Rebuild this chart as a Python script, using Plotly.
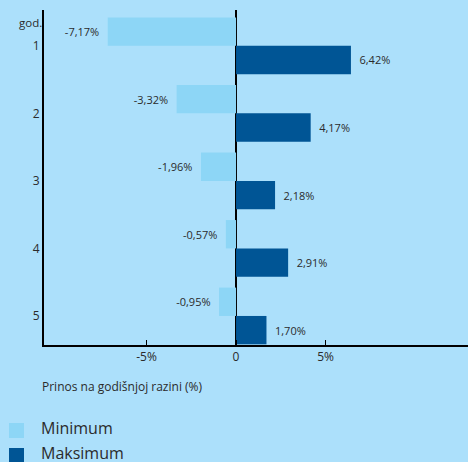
import plotly.graph_objects as go

years = [1, 2, 3, 4, 5]
year_labels = ["1", "2", "3", "4", "5"]
minimum = [-7.17, -3.32, -1.96, -0.57, -0.95]
maksimum = [6.42, 4.17, 2.18, 2.91, 1.70]
x_tickvals = [-5, 0, 5]
x_ticktext = ["-5%", "0", "5%"]
series_names = ["Minimum", "Maksimum"]

def fmt(v):
    return f"{v:.2f}".replace(".", ",") + "%"

SP = "\u2002"
BG = "#ACE0FB"
C_MIN = "#8DD6F6"
C_MAX = "#005595"
TXT = "#2b2b2b"
FONT = "Open Sans"

W, H = 468, 462
ML, MR, MT, MB = 44, 0, 10, 117
PW, PH = W - ML - MR, H - MT - MB

def px(xp):
    return (xp - ML) / PW

def py(yp):
    return (H - MB - yp) / PH

fig = go.Figure()
fig.add_trace(go.Bar(
    y=years, x=minimum, orientation="h", name=series_names[0],
    marker=dict(color=C_MIN, line=dict(width=0)),
    text=[fmt(v) + SP for v in minimum], textposition="outside",
    textfont=dict(size=11, color=TXT, family=FONT), cliponaxis=False,
))
fig.add_trace(go.Bar(
    y=years, x=maksimum, orientation="h", name=series_names[1],
    marker=dict(color=C_MAX, line=dict(width=0)),
    text=[SP + fmt(v) for v in maksimum], textposition="outside",
    textfont=dict(size=11, color=TXT, family=FONT), cliponaxis=False,
))

fig.update_layout(
    width=W, height=H,
    margin=dict(l=ML, r=MR, t=MT, b=MB, autoexpand=False),
    paper_bgcolor=BG, plot_bgcolor=BG,
    barmode="group", bargap=0.16, bargroupgap=0,
    font=dict(family=FONT, color=TXT),
    showlegend=False,
    uniformtext=dict(minsize=11, mode="show"),
    xaxis=dict(
        range=[-10.73, 12.96], tickvals=x_tickvals, ticktext=x_ticktext,
        ticks="inside", ticklen=5, tickcolor="black", tickwidth=1,
        showgrid=False, showline=True, linecolor="black", linewidth=2,
        zeroline=True, zerolinecolor="black", zerolinewidth=2,
        tickfont=dict(size=12, color=TXT), fixedrange=True,
    ),
    yaxis=dict(
        range=[5.43, 0.47], tickvals=years, ticktext=year_labels,
        ticks="", showgrid=False, showline=True, linecolor="black",
        linewidth=2, zeroline=False, tickfont=dict(size=12, color=TXT),
        fixedrange=True,
    ),
)

fig.add_annotation(
    text="god.", xref="paper", yref="y", x=0, y=0.65,
    xanchor="right", yanchor="middle", showarrow=False, xshift=0,
    font=dict(size=11.5, color=TXT, family=FONT),
)
fig.add_annotation(
    text="Prinos na godišnjoj razini (%)", xref="paper", yref="paper",
    x=px(40), y=py(386), xanchor="left", yanchor="middle", showarrow=False,
    font=dict(size=12, color=TXT, family=FONT),
)

# legend drawn manually
for i, (name, col) in enumerate(zip(series_names, [C_MIN, C_MAX])):
    top = 423 + 25 * i
    fig.add_shape(
        type="rect", xref="paper", yref="paper",
        x0=px(9), x1=px(24), y0=py(top + 15), y1=py(top),
        fillcolor=col, line=dict(width=0),
    )
    fig.add_annotation(
        text=name, xref="paper", yref="paper", x=px(39), y=py(top + 5),
        xanchor="left", yanchor="middle", showarrow=False,
        font=dict(size=16, color=TXT, family=FONT),
    )

fig.write_html(
    "out.html",
    config={"displayModeBar": False, "staticPlot": True},
    post_script="document.body.style.margin='0';document.body.style.overflow='hidden';document.body.style.background='%s';" % BG,
)
